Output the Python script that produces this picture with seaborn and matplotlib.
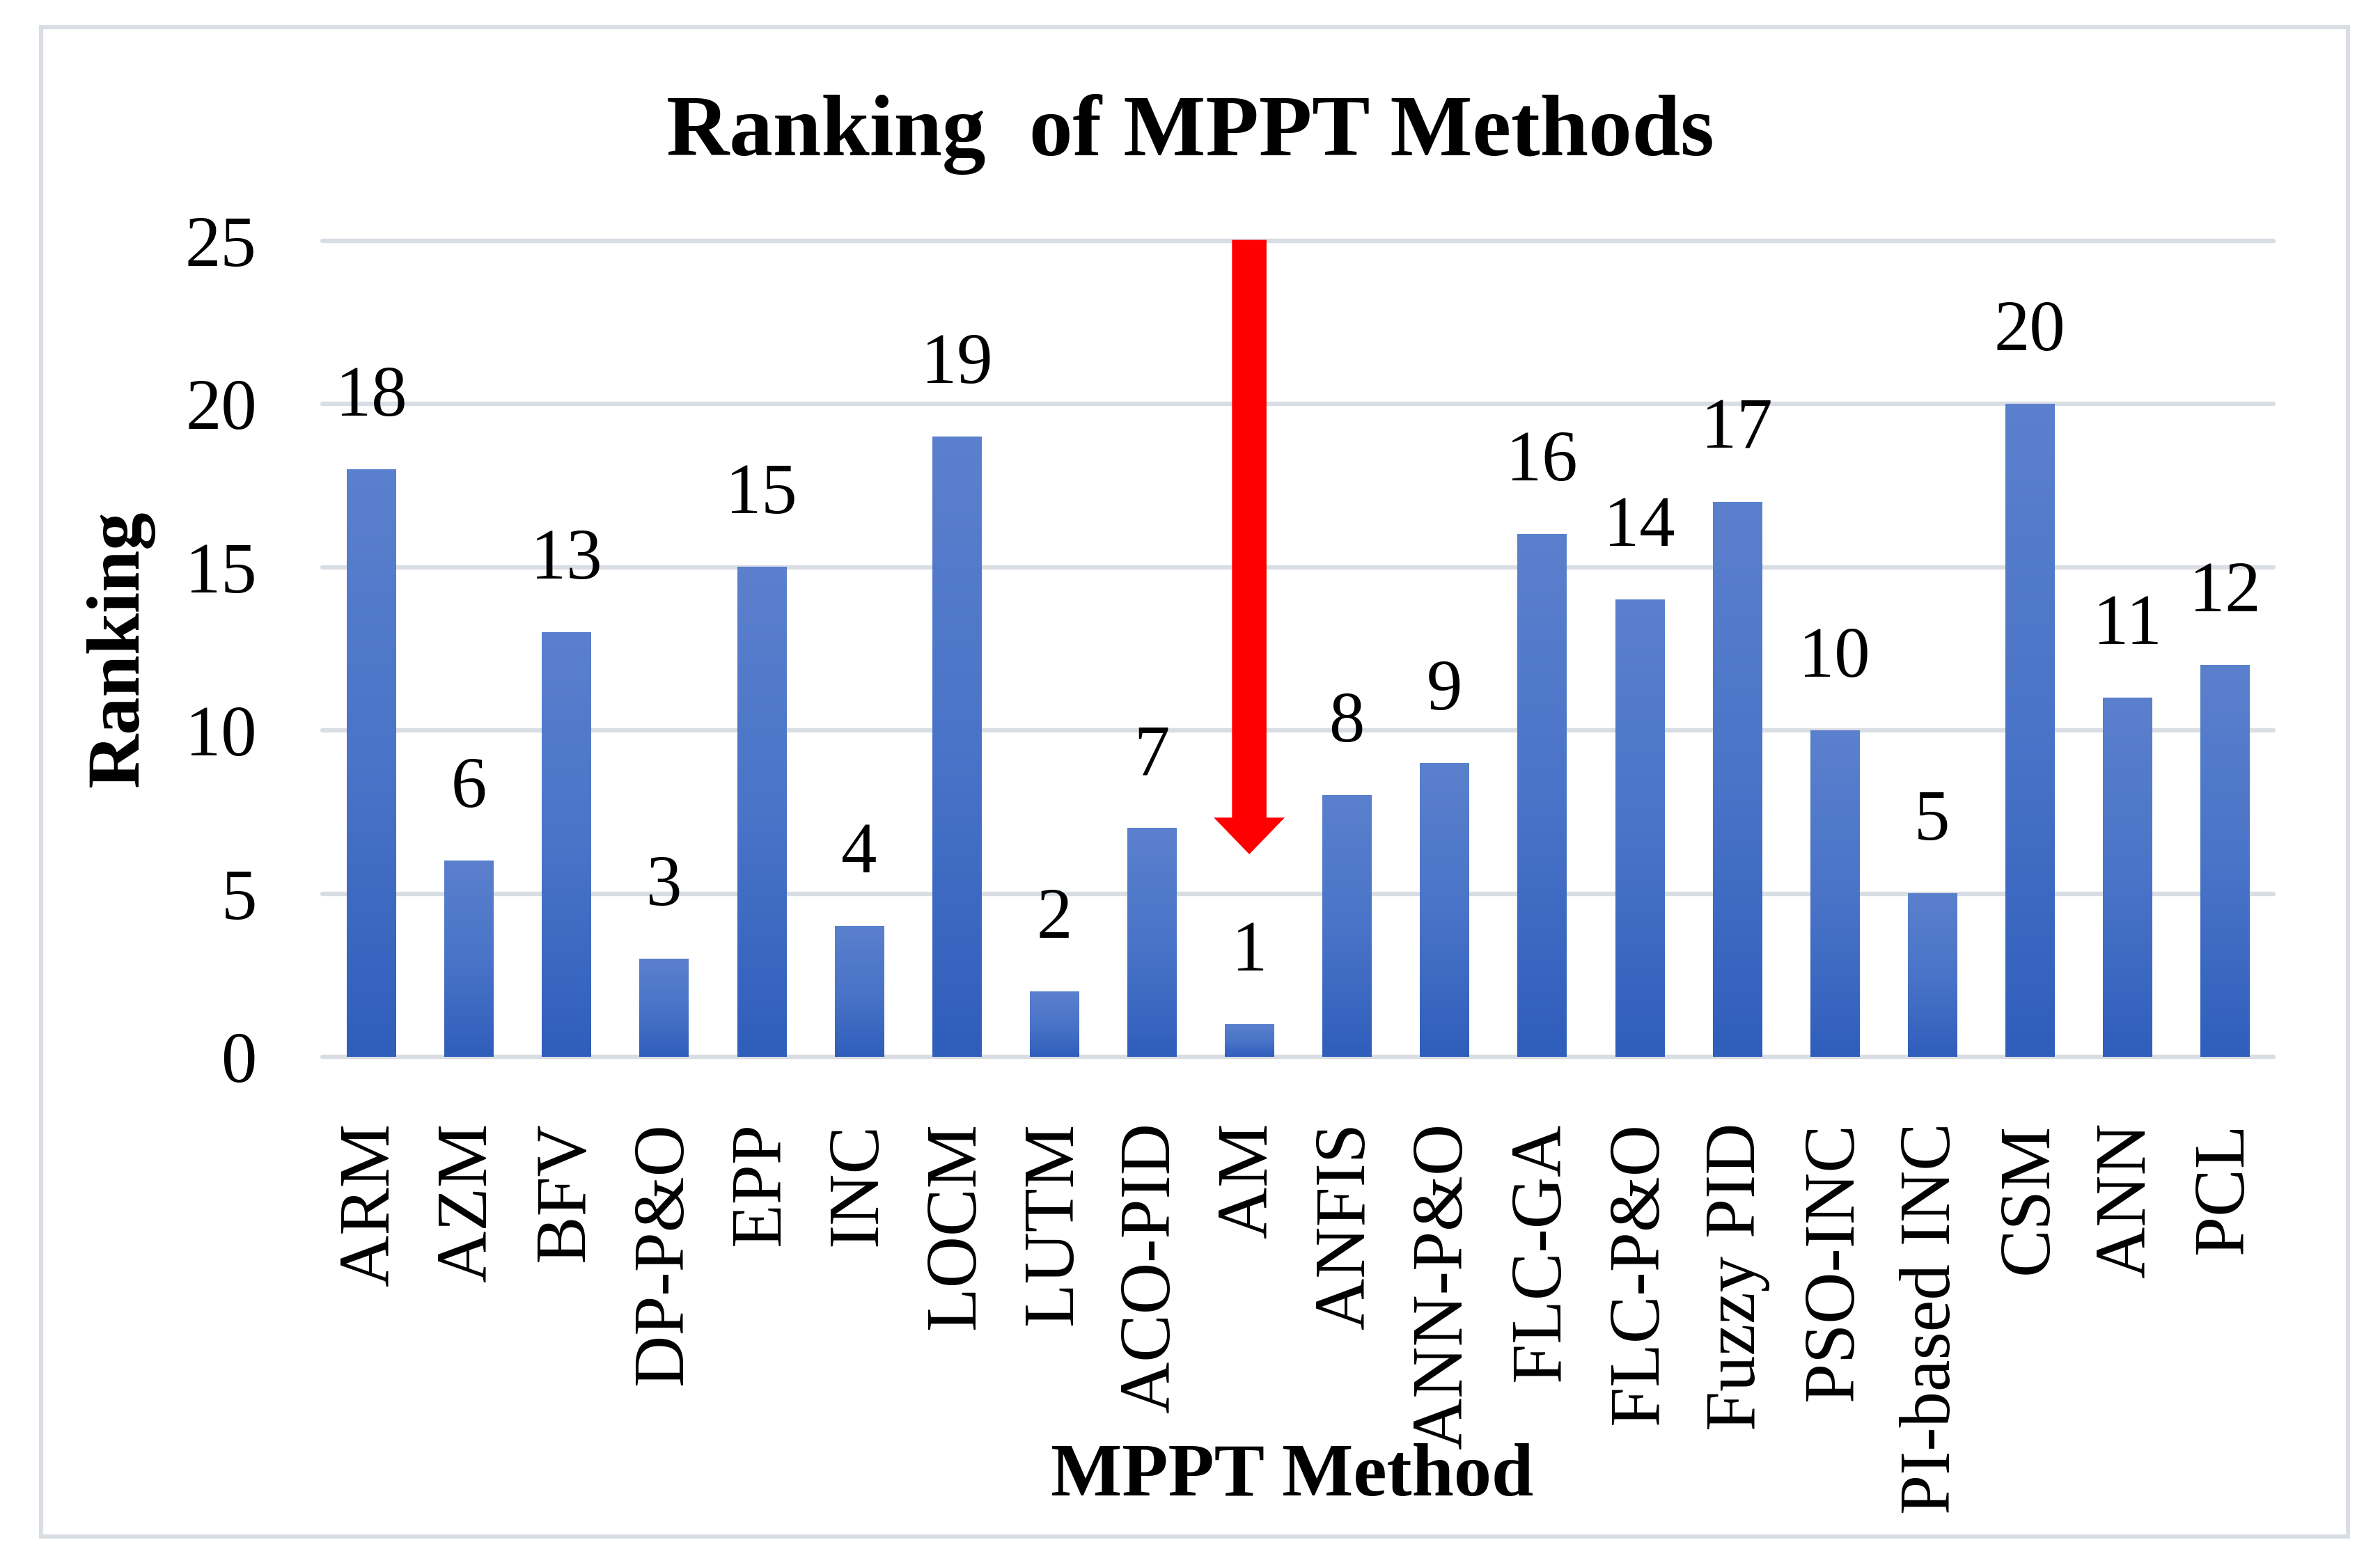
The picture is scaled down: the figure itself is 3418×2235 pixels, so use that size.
import numpy as np
import pandas as pd
import matplotlib
matplotlib.use('Agg')
import matplotlib.pyplot as plt
import seaborn as sns
from matplotlib.colors import LinearSegmentedColormap
from matplotlib.patches import FancyArrow, Rectangle

methods = ['ARM', 'AZM', 'BFV', 'DP-P&O', 'EPP', 'INC', 'LOCM', 'LUTM', 'ACO-PID', 'AM',
           'ANFIS', 'ANN-P&O', 'FLC-GA', 'FLC-P&O', 'Fuzzy PID', 'PSO-INC', 'PI-based INC',
           'CSM', 'ANN', 'PCL']
ranking = [18, 6, 13, 3, 15, 4, 19, 2, 7, 1, 8, 9, 16, 14, 17, 10, 5, 20, 11, 12]
yticks = [0, 5, 10, 15, 20, 25]
best = 'AM'

df = pd.DataFrame({'method': methods, 'ranking': ranking})

sns.set_style('white')
plt.rcParams['font.family'] = ['Liberation Serif', 'DejaVu Serif']
plt.rcParams['text.color'] = 'black'
plt.rcParams['axes.labelcolor'] = 'black'
plt.rcParams['xtick.color'] = 'black'
plt.rcParams['ytick.color'] = 'black'

fig = plt.figure(figsize=(17.09, 11.175), dpi=200)
ax = fig.add_axes([0.1355, 0.3208, 0.9553 - 0.1355, 0.8452 - 0.3208])

sns.barplot(data=df, x='method', y='ranking', order=methods, width=0.5,
            color='#4472c4', ax=ax, zorder=3)

# Excel-like vertical gradient on each bar
grad = LinearSegmentedColormap.from_list('bars', ['#2f5ebb', '#4a74c8', '#5b80cd'])
g = np.linspace(0, 1, 256).reshape(-1, 1)
for p in ax.patches:
    x0, y0 = p.get_x(), p.get_y()
    w, h = p.get_width(), p.get_height()
    p.set_facecolor('none')
    p.set_edgecolor('none')
    ax.imshow(g, cmap=grad, origin='lower', aspect='auto',
              extent=(x0, x0 + w, y0, y0 + h), zorder=3)

ax.bar_label(ax.containers[0], labels=[str(v) for v in ranking], padding=20,
             fontsize=37, color='black')

ax.set_xlim(-0.5, len(methods) - 0.5)
ax.set_ylim(0, 25)
ax.set_yticks(yticks)
ax.grid(axis='y', color='#d9dde4', linewidth=2.3, zorder=0)
ax.grid(axis='x', visible=False)
for gl in ax.get_ygridlines():
    gl.set_clip_on(False)
sns.despine(ax=ax, left=True, bottom=True, top=True, right=True)

ax.tick_params(axis='y', length=0, pad=34, labelsize=37)
ax.tick_params(axis='x', length=0, pad=34, labelsize=37, rotation=90)

ax.set_xlabel('MPPT Method', fontsize=39, fontweight='bold')
ax.set_ylabel('Ranking', fontsize=39, fontweight='bold')
ax.xaxis.set_label_coords(0.497, -0.515)
ax.xaxis.label.set_va('center')
ax.yaxis.set_label_coords(-0.1035, 0.5)
ax.yaxis.label.set_va('center')

fig.text(0.5, 0.9136, 'Ranking  of MPPT Methods', ha='center', va='center',
         fontsize=45, fontweight='bold')

# red arrow pointing to the best method
bx = methods.index(best)
ax.add_patch(FancyArrow(bx, 25, 0, -18.75, width=0.334, head_width=0.68,
                        head_length=1.05, length_includes_head=True,
                        color='#ff0000', zorder=5, clip_on=False))

# light frame around the figure
fig.add_artist(Rectangle((59 / 3418, 1 - 2207 / 2235), (3372 - 59) / 3418,
                         (2207 - 39) / 2235, transform=fig.transFigure,
                         fill=False, edgecolor='#d9dde4', linewidth=2.2))

fig.savefig('out.png', dpi=200)
